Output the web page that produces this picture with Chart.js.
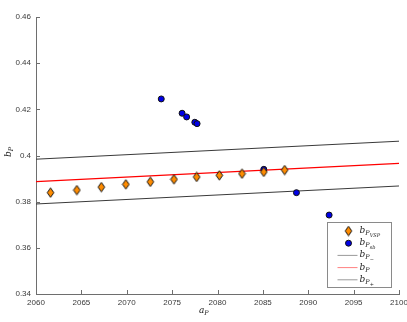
<!DOCTYPE html>
<html><head><meta charset="utf-8">
<script src="https://cdn.jsdelivr.net/npm/chart.js@4.4.1/dist/chart.umd.min.js"></script>
<style>html,body{margin:0;padding:0;background:#fff}#wrap{width:407px;height:322px}</style>
</head><body><div id="wrap"><canvas id="c" width="407" height="322"></canvas></div>
<script>
// ---- data ----
const vspA = [2061.6, 2064.5, 2067.2, 2069.9, 2072.6, 2075.2, 2077.7, 2080.2, 2082.7, 2085.1, 2087.4];
const vspB = [0.3839, 0.3850, 0.3863, 0.3875, 0.3886, 0.3897, 0.3907, 0.3914, 0.3921, 0.3929, 0.3937];
const sbA = [2073.8, 2076.1, 2076.6, 2077.5, 2077.75, 2085.1, 2088.7, 2092.3];
const sbB = [0.4245, 0.4183, 0.4167, 0.4144, 0.4138, 0.3940, 0.3839, 0.3742];
const lineA = [2060, 2100];
const lowerB = [0.3790, 0.3868];
const midB = [0.3887, 0.3966];
const upperB = [0.3984, 0.4062];
const xTicks = [2060, 2065, 2070, 2075, 2080, 2085, 2090, 2095, 2100];
const yTicks = [0.34, 0.36, 0.38, 0.40, 0.42, 0.44, 0.46];
const legendLabels = [['P','VSP'], ['P','sb'], ['P','\u2212'], ['P',''], ['P','+']];

const pts = (xs, ys) => xs.map((x, i) => ({x: x, y: ys[i]}));
const AXIS = '#6e6e6e';
const TXT = '#3a3a3a';

function drawMath(ctx, x, y, base, sub, subsub) {
  ctx.save();
  ctx.textBaseline = 'alphabetic';
  ctx.textAlign = 'left';
  ctx.fillStyle = '#222';
  ctx.font = 'italic 9px "DejaVu Serif", "Liberation Serif", serif';
  ctx.fillText(base, x, y);
  let w = ctx.measureText(base).width;
  ctx.font = 'italic 6.5px "DejaVu Serif", "Liberation Serif", serif';
  ctx.fillText(sub, x + w, y + 2);
  let w2 = ctx.measureText(sub).width;
  if (subsub) {
    ctx.font = (subsub === '+' || subsub === '\u2212' ? '' : 'italic ') + '5px "DejaVu Serif", "Liberation Serif", serif';
    ctx.fillText(subsub, x + w + w2, y + 4);
  }
  ctx.restore();
}

function makeDiamond() {
  const c = document.createElement('canvas');
  c.width = 9; c.height = 11;
  const g = c.getContext('2d');
  g.fillStyle = '#ff8c00'; g.strokeStyle = '#111'; g.lineWidth = 1;
  g.beginPath(); g.moveTo(4.5, 0.8); g.lineTo(7.8, 5.5); g.lineTo(4.5, 10.2); g.lineTo(1.2, 5.5); g.closePath();
  g.fill(); g.stroke();
  return c;
}
const diamondImg = makeDiamond();

const decor = {
  id: 'decor',
  afterDraw(chart) {
    const ctx = chart.ctx;
    const xs = chart.scales.x, ys = chart.scales.y;
    const a = chart.chartArea;
    ctx.save();
    ctx.strokeStyle = AXIS;
    ctx.lineWidth = 1;
    xTicks.forEach(v => {
      const px = Math.round(xs.getPixelForValue(v)) + 0.5;
      ctx.beginPath(); ctx.moveTo(px, a.bottom); ctx.lineTo(px, a.bottom - 4); ctx.stroke();
    });
    yTicks.forEach(v => {
      const py = Math.round(ys.getPixelForValue(v)) + 0.5;
      ctx.beginPath(); ctx.moveTo(a.left, py); ctx.lineTo(a.left + 4, py); ctx.stroke();
    });
    ctx.restore();
    // axis titles
    drawMath(ctx, 199, 313, 'a', 'P', '');
    ctx.save();
    ctx.translate(11, 157);
    ctx.rotate(-Math.PI / 2);
    drawMath(ctx, 0, 0, 'b', 'P', '');
    ctx.restore();
    // legend
    const bx = 327.5, by = 222.5, bw = 64, bh = 65;
    ctx.save();
    ctx.fillStyle = '#fff';
    ctx.fillRect(bx, by, bw, bh);
    ctx.strokeStyle = '#8a8a8a';
    ctx.lineWidth = 1;
    ctx.strokeRect(bx, by, bw, bh);
    const dsets = chart.data.datasets;
    for (let i = 0; i < 5; i++) {
      const ds = dsets[i];
      const cy = by + 8.5 + i * 12.2;
      const mx = bx + 21;
      if (ds.showLine === false) {
        if (i === 0) {
          ctx.drawImage(diamondImg, mx - 4.5, cy - 5.5);
        } else {
          ctx.fillStyle = ds.backgroundColor; ctx.strokeStyle = ds.borderColor; ctx.lineWidth = 1;
          ctx.beginPath(); ctx.arc(mx, cy, ds.pointRadius, 0, Math.PI * 2); ctx.fill(); ctx.stroke();
        }
      } else {
        ctx.strokeStyle = i === 3 ? '#ff8080' : '#9a9a9a';
        ctx.lineWidth = 1;
        ctx.beginPath(); ctx.moveTo(bx + 10, cy); ctx.lineTo(bx + 30, cy); ctx.stroke();
      }
      drawMath(ctx, bx + 32, cy + 2, 'b', legendLabels[i][0], legendLabels[i][1]);
    }
    ctx.restore();
  }
};

new Chart(document.getElementById('c'), {
  type: 'scatter',
  data: {
    datasets: [
      { label: 'VSP', data: pts(vspA, vspB), showLine: false, pointStyle: diamondImg, pointRadius: 4,
        backgroundColor: '#ff8c00', borderColor: '#111', borderWidth: 1, order: 0 },
      { label: 'sb', data: pts(sbA, sbB), showLine: false, pointStyle: 'circle', pointRadius: 3,
        backgroundColor: '#0000e6', borderColor: '#111', borderWidth: 1, order: 1 },
      { label: 'minus', data: pts(lineA, lowerB), showLine: true, pointRadius: 0, borderColor: '#3a3a3a', borderWidth: 1, order: 3 },
      { label: 'mid', data: pts(lineA, midB), showLine: true, pointRadius: 0, borderColor: '#ff0000', borderWidth: 1.2, order: 2 },
      { label: 'plus', data: pts(lineA, upperB), showLine: true, pointRadius: 0, borderColor: '#3a3a3a', borderWidth: 1, order: 3 }
    ]
  },
  options: {
    responsive: false,
    devicePixelRatio: 1,
    animation: false,
    events: [],
    layout: { padding: { top: 17, right: 0, left: 0, bottom: 0 } },
    plugins: { legend: { display: false }, tooltip: { enabled: false } },
    scales: {
      x: {
        type: 'linear', min: 2060, max: 2100,
        afterBuildTicks: s => { s.ticks = xTicks.map(v => ({value: v})); },
        afterFit: s => { s.height = 28; s.paddingRight = 8; s.paddingLeft = 0; },
        grid: { display: false, drawTicks: false },
        border: { display: true, color: AXIS, width: 1 },
        ticks: { color: TXT, font: { family: '"Liberation Sans", Arial, sans-serif', size: 8 }, padding: 4, maxRotation: 0, autoSkip: false,
          callback: v => String(v) }
      },
      y: {
        type: 'linear', min: 0.34, max: 0.46,
        afterBuildTicks: s => { s.ticks = yTicks.map(v => ({value: v})); },
        afterFit: s => { s.width = 36; },
        grid: { display: false, drawTicks: false },
        border: { display: true, color: AXIS, width: 1 },
        ticks: { color: TXT, font: { family: '"Liberation Sans", Arial, sans-serif', size: 8 }, padding: 5,
          callback: v => String(+Number(v).toFixed(2)) }
      }
    }
  },
  plugins: [decor]
});
</script>
</body></html>
